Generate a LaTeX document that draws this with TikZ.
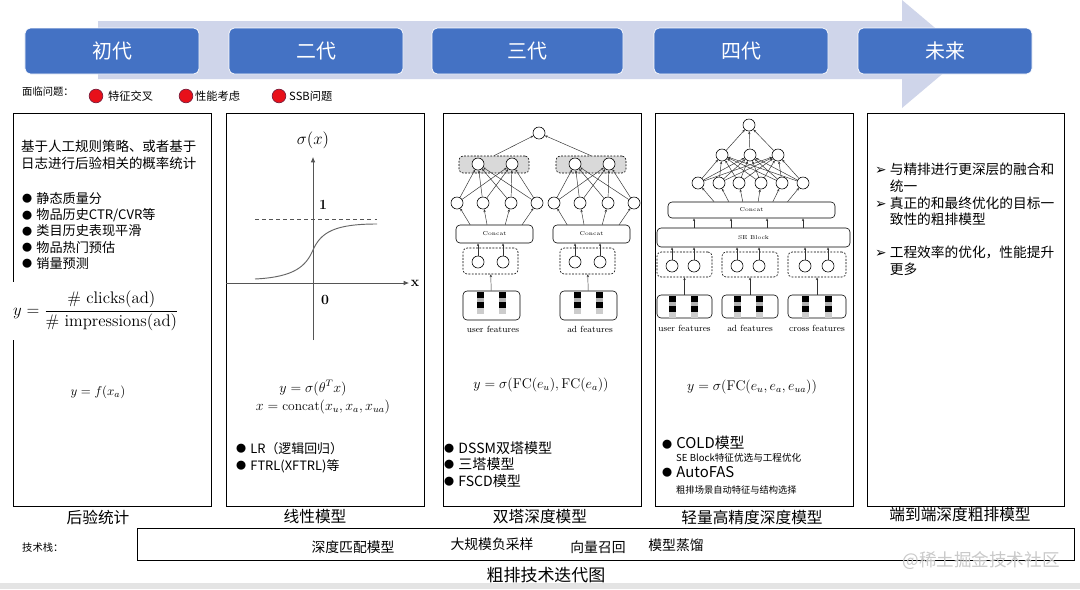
\documentclass[tikz,border=0pt]{standalone}
\usepackage{fontspec}
\usepackage{tikz}
\usetikzlibrary{positioning,calc,arrows.meta}
\newfontfamily\cjk{Noto Sans CJK SC}
\newfontfamily\dejavu{DejaVu Sans}
\definecolor{genblue}{HTML}{4472C4}
\definecolor{bandgray}{RGB}{207,213,234}
\definecolor{issuered}{HTML}{E8101A}
\definecolor{issueedge}{HTML}{7A1E3C}
\definecolor{axisgray}{HTML}{555555}
\definecolor{stripgray}{HTML}{E4E4E4}
\definecolor{markgray}{HTML}{C9C9C9}
\newcommand\featbar[2]{%
  \fill[black] (#1-3.5,#2) rectangle (#1+3.5,#2+5.5);
  \fill[black!30] (#1-3.5,#2+5.5) rectangle (#1+3.5,#2+10);
  \fill[black] (#1-3.5,#2+10) rectangle (#1+3.5,#2+15.5);
  \fill[black!20] (#1-3.5,#2+15.5) rectangle (#1+3.5,#2+22);}
\newcommand\tipmark{{\dejavu ➢}\ }
\newcommand\dotmark{\raisebox{0.5pt}{\fontsize{8.6}{9}\selectfont●}\hspace{3.5pt}}

\begin{document}
\begin{tikzpicture}[x=0.3mm, y=-0.3mm,
  genbox/.style={fill=genblue, draw=white, line width=0.6pt, rounded corners=1.6mm, minimum width=52.2mm, minimum height=13.8mm, text=white, font=\cjk\fontsize{17}{20}\selectfont},
  issuedot/.style={circle, fill=issuered, draw=issueedge, line width=0.6pt, minimum size=4.1mm, inner sep=0pt},
  smalltext/.style={font=\cjk\fontsize{9.6}{11}\selectfont, inner sep=0pt, anchor=west},
  panel/.style={draw, line width=0.8pt, minimum width=59.4mm, minimum height=117.9mm},
  paneltext/.style={font=\cjk\fontsize{11.5}{14.5}\selectfont, align=left, inner sep=0pt, anchor=north west},
  paneltitle/.style={font=\cjk\fontsize{13.4}{16}\selectfont, inner sep=0pt},
  techitem/.style={font=\cjk\fontsize{11.8}{14}\selectfont, inner sep=0pt},
  neuron/.style={circle, draw, line width=0.5pt, fill=white, minimum size=3.6mm, inner sep=0pt},
  embnode/.style={neuron, path picture={\fill (path picture bounding box.center) circle (0.35pt);}},
  featbox/.style={draw, line width=0.5pt, rounded corners=1.2mm},
  dashbox/.style={draw, line width=0.5pt, dashed, dash pattern=on 1.6pt off 1.2pt, rounded corners=1.2mm},
  layerbox/.style={draw, line width=0.5pt, rounded corners=1.2mm, font=\fontsize{4.8}{5}\selectfont, inner sep=0pt},
  netlabel/.style={font=\fontsize{7.6}{9}\selectfont, inner sep=0pt},
  netarr/.style={-{Stealth[length=2.4pt,width=2pt]}, line width=0.4pt, draw=black!80}]
\useasboundingbox (0,0) rectangle (1080,589);
\fill[white] (0,0) rectangle (1080,589);
\fill[stripgray] (0,583) rectangle (1080,589);

% timeline band
\fill[bandgray] (98,21) -- (902,21) -- (902,0) -- (966,54) -- (902,108) -- (902,79) -- (98,79) -- cycle;
\node[genbox] (gen1) at (112,51) {初代};
\node[genbox] (gen2) at (316,51) {二代};
\node[genbox, minimum width=57.3mm] (gen3) at (527.5,51) {三代};
\node[genbox] (gen4) at (741,51) {四代};
\node[genbox] (gen5) at (945,51) {未来};

% issues
\node[smalltext, font=\cjk\fontsize{8.8}{10}\selectfont] (issues) at (22,92) {面临问题：};
\node[issuedot] (dot1) at (96,96) {};
\node[smalltext] (iss1) at (108,96) {特征交叉};
\node[issuedot] (dot2) at (186,96) {};
\node[smalltext] (iss2) at (195,96) {性能考虑};
\node[issuedot] (dot3) at (279,96) {};
\node[smalltext] (iss3) at (289,96) {SSB问题};

% panels
\node[panel] (p1) at (112.5,309.5) {};
\node[panel] (p2) at (325,309.5) {};
\node[panel] (p3) at (542,309.5) {};
\node[panel] (p4) at (754,309.5) {};
\node[panel, minimum width=59.1mm] (p5) at (965.5,309.5) {};

% panel 1
\node[paneltext] (intro1) at (21,140) {基于人工规则策略、或者基于\\日志进行后验相关的概率统计};
\node[paneltext, font=\cjk\fontsize{11.2}{13.9}\selectfont] (list1) at (22,192) {\dotmark 静态质量分\\\dotmark 物品历史CTR/CVR等\\\dotmark 类目历史表现平滑\\\dotmark 物品热门预估\\\dotmark 销量预测};
\node[fill=white, anchor=west, inner sep=1.2mm, minimum height=17.4mm, font=\fontsize{14.3}{17}\selectfont] (ctr) at (9,311) {$\displaystyle y=\frac{\#\ \mathrm{clicks(ad)}}{\#\ \mathrm{impressions(ad)}}$};
\node[font=\fontsize{11}{13}\selectfont] (f1) at (98,392) {$y=f(x_a)$};

% panel 2
\draw[axisgray, line width=0.6pt, -{Latex[length=4.5pt,width=4pt]}] (313,340) -- (313,157);
\draw[axisgray, line width=0.6pt, -{Latex[length=4.5pt,width=4pt]}] (226,283) -- (409,283);
\draw[axisgray, dashed, line width=0.5pt] (255,219) -- (377,219);
\draw[black!60, line width=0.8pt] (255,279) .. controls (295,277) and (306,266) .. (313,250) .. controls (321,232) and (335,224) .. (377,224);
\node[font=\fontsize{15}{18}\selectfont] (sig) at (313,140) {$\sigma(x)$};
\node[font=\fontsize{12}{14}\selectfont] (one) at (323,205) {\textbf{1}};
\node[font=\fontsize{12}{14}\selectfont] (zero) at (325,300) {\textbf{0}};
\node[font=\fontsize{12}{14}\selectfont] (xlab) at (415,283) {\textbf{x}};
\node[font=\fontsize{11.5}{14}\selectfont] (lrf) at (313,388) {$y=\sigma(\theta^Tx)$};
\node[font=\fontsize{11.5}{14}\selectfont] (catf) at (323,407) {$x=\mathrm{concat}(x_u,x_a,x_{ua})$};
\node[paneltext, font=\cjk\fontsize{11}{14.5}\selectfont] (list2) at (236,442) {\dotmark LR（逻辑回归）\\\dotmark FTRL(XFTRL)等};

% panel 3: two towers
\foreach \t/\s/\lab in {0/0/user features,1/97/ad features}{
  \node[featbox, minimum width=17.1mm, minimum height=8.7mm] (fb\t) at (491.5+\s,305.5) {};
  \featbar{480+\s}{292}
  \featbar{502+\s}{292}
  \node[netlabel] (fl\t) at (493+\s,329) {\lab};
  \node[dashbox, minimum width=16.5mm, minimum height=7.8mm] (db\t) at (490.5+\s,261) {};
  \node[embnode] (da\t) at (478+\s,262) {};
  \node[embnode] (dc\t) at (503+\s,262) {};
  \node[layerbox, minimum width=23.1mm, minimum height=5.4mm] (cat\t) at (494.5+\s,234) {Concat};
  \foreach \i/\x in {1/457,2/483,3/511,4/537}
    \node[neuron] (h\t\i) at (\x+\s,203) {};
  \node[dashbox, fill=black!15, minimum width=21mm, minimum height=5.1mm] (gb\t) at (494+\s,164.5) {};
  \node[neuron] (oa\t) at (478+\s,164) {};
  \node[neuron] (ob\t) at (512+\s,164) {};
  \draw[netarr] (fb\t) -- (db\t);
  \draw[netarr] (da\t) -- (da\t |- cat\t.south);
  \draw[netarr] (dc\t) -- (dc\t |- cat\t.south);
  \foreach \i in {1,...,4}{
    \draw[netarr] ($(cat\t.north)!0.65!(cat\t.north -| h\t\i)$) -- (h\t\i);
    \draw[netarr] (h\t\i) -- (oa\t);
    \draw[netarr] (h\t\i) -- (ob\t);}
}
\node[neuron] (out3) at (539,133) {};
\draw[netarr] (gb0.north) -- (out3);
\draw[netarr] (gb1.north) -- (out3);
\node[font=\fontsize{12}{14}\selectfont] (f3) at (541,385) {$y=\sigma(\mathrm{FC}(e_u),\mathrm{FC}(e_a))$};
\node[paneltext, font=\cjk\fontsize{12}{14.1}\selectfont] (list3) at (444,441) {\dotmark DSSM双塔模型\\\dotmark 三塔模型\\\dotmark FSCD模型};

% panel 4: three fields, SE block
\foreach \t/\x/\w/\ua/\ub/\lab in {0/684.5/16.5/672/694/user features,1/750/16.8/737/759/ad features,2/817/17.4/805/828/cross features}{
  \node[featbox, minimum width=\w mm, minimum height=6.9mm] (fe\t) at (\x,306.5) {};
  \featbar{\ua}{296}
  \featbar{\ub}{296}
  \node[netlabel] (fn\t) at (\x,328) {\lab};
  \node[dashbox, minimum width=\w mm, minimum height=7.5mm] (de\t) at (\x,264.5) {};
  \node[embnode] (ea\t) at (\ua,266) {};
  \node[embnode] (eb\t) at (\ub,266) {};
  \draw[netarr] (fe\t) -- (de\t);
}
\node[layerbox, minimum width=57.9mm, minimum height=5.7mm] (se4) at (753.5,237.5) {SE Block};
\node[layerbox, minimum width=50.1mm, minimum height=4.8mm] (cat4) at (751.5,210) {Concat};
\foreach \t in {0,1,2}{
  \draw[netarr] (ea\t) -- (ea\t |- se4.south);
  \draw[netarr] (eb\t) -- (eb\t |- se4.south);}
\foreach \dx in {-59.5,-22.5,13.5,49.5}
  \draw[netarr] ($(se4.north)+(\dx,0)$) -- ($(cat4.south)+(\dx+2,0)$);
\foreach \i/\x in {1/698,2/719,3/739,4/761,5/782,6/803}
  \node[neuron] (m\i) at (\x,183) {};
\foreach \j/\x in {1/722,2/750,3/778}
  \node[neuron] (k\j) at (\x,155) {};
\node[neuron] (out4) at (749,125) {};
\foreach \i in {1,...,6}{
  \draw[netarr] ($(cat4.north)!0.7!(cat4.north -| m\i)$) -- (m\i);
  \foreach \j in {1,2,3}
    \draw[netarr] (m\i) -- (k\j);}
\foreach \j in {1,2,3}
  \draw[netarr] (k\j) -- (out4);
\node[font=\fontsize{12}{14}\selectfont] (f4) at (752,387) {$y=\sigma(\mathrm{FC}(e_u,e_a,e_{ua}))$};
\node[smalltext, font=\cjk\fontsize{12.7}{15}\selectfont] (cold) at (662,443) {\dotmark COLD模型};
\node[smalltext, font=\cjk\fontsize{8.2}{10}\selectfont] (coldnote) at (676,458) {SE Block特征优选与工程优化};
\node[smalltext, font=\cjk\fontsize{12.7}{15}\selectfont] (autofas) at (662,472) {\dotmark AutoFAS};
\node[smalltext, font=\cjk\fontsize{7.9}{10}\selectfont] (autonote) at (676,490) {粗排场景自动特征与结构选择};

% panel 5
\node[paneltext, font=\cjk\fontsize{11.7}{14.2}\selectfont] (list5) at (875,163) {\tipmark 与精排进行更深层的融合和\\\hphantom{\tipmark}统一\\\tipmark 真正的和最终优化的目标一\\\hphantom{\tipmark}致性的粗排模型\\[14.2pt]\tipmark 工程效率的优化，性能提升\\\hphantom{\tipmark}更多};

% titles under panels
\node[paneltitle] (t1) at (98,517) {后验统计};
\node[paneltitle] (t2) at (315,517) {线性模型};
\node[paneltitle] (t3) at (540,517) {双塔深度模型};
\node[paneltitle] (t4) at (752,517) {轻量高精度深度模型};
\node[paneltitle] (t5) at (960,515) {端到端深度粗排模型};

% tech stack
\node[smalltext, font=\cjk\fontsize{8.8}{10}\selectfont] (stacklab) at (22,548) {技术栈：};
\node[draw, line width=0.8pt, minimum width=281.1mm, minimum height=9.6mm] (stack) at (605.5,544) {};
\node[techitem] (tk1) at (353,547) {深度匹配模型};
\node[techitem] (tk2) at (492,544) {大规模负采样};
\node[techitem] (tk3) at (598,547) {向量召回};
\node[techitem] (tk4) at (676,545) {模型蒸馏};
\node[font=\cjk\fontsize{14.5}{17}\selectfont, inner sep=0pt] (title) at (546,575) {粗排技术迭代图};
\node[font=\cjk\fontsize{15}{17}\selectfont, text=markgray, inner sep=0pt] (mark) at (981,561) {@稀土掘金技术社区};
\end{tikzpicture}
\end{document}
